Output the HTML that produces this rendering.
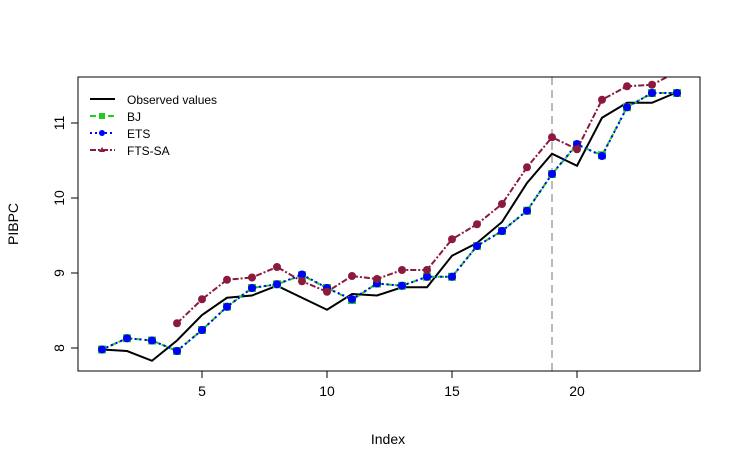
<!DOCTYPE html>
<html><head><meta charset="utf-8"><style>
body{margin:0;background:#fff}
svg{display:block;font-family:"Liberation Sans",Arial,sans-serif}
</style></head><body>
<svg id="chart" width="741" height="470">
<defs><clipPath id="plotclip"><rect x="78" y="77" width="622" height="294"/></clipPath></defs>
<g id="marks" clip-path="url(#plotclip)"></g>
<rect x="78" y="77" width="622" height="294" fill="none" stroke="#000"/>
<g id="axes"></g>
<text x="388" y="444" font-size="14" text-anchor="middle">Index</text>
<text transform="translate(18,224) rotate(-90)" font-size="14" text-anchor="middle">PIBPC</text>
<g font-size="12">
<g><line x1="90" y1="99" x2="115" y2="99" stroke="#000" stroke-width="2"/><text x="127" y="104">Observed values</text></g>
<g><line x1="90" y1="116" x2="115" y2="116" stroke="#22cc22" stroke-width="2" stroke-dasharray="6,3"/><rect x="99" y="113" width="6" height="6" fill="#22cc22"/><text x="127" y="121">BJ</text></g>
<g><line x1="90" y1="133" x2="115" y2="133" stroke="#0000ff" stroke-width="2" stroke-dasharray="2,3"/><circle cx="102" cy="133" r="3" fill="#0000ff"/><text x="127" y="138">ETS</text></g>
<g><line x1="90" y1="150" x2="115" y2="150" stroke="#8b1a3c" stroke-width="2" stroke-dasharray="6,2,2,2"/><path d="M102,147 l3,5 h-6z" fill="#8b1a3c"/><text x="127" y="155">FTS-SA</text></g>
</g>
</svg>
<script>
const indices=[1,2,3,4,5,6,7,8,9,10,11,12,13,14,15,16,17,18,19,20,21,22,23,24];
const observed=[7.98,7.96,7.83,8.1,8.44,8.67,8.70,8.83,8.67,8.51,8.72,8.70,8.81,8.81,9.23,9.40,9.68,10.2,10.59,10.43,11.07,11.27,11.27,11.41];
const bj=[7.98,8.13,8.10,7.96,8.24,8.55,8.80,8.85,8.97,8.80,8.64,8.86,8.83,8.95,8.95,9.36,9.56,9.83,10.32,10.71,10.57,11.21,11.40,11.40];
const ets=[7.98,8.13,8.10,7.96,8.24,8.55,8.80,8.85,8.98,8.80,8.65,8.86,8.83,8.95,8.95,9.36,9.56,9.83,10.32,10.72,10.56,11.21,11.40,11.40];
const ftsIdx=[4,5,6,7,8,9,10,11,12,13,14,15,16,17,18,19,20,21,22,23,24];
const fts=[8.33,8.65,8.91,8.94,9.08,8.89,8.75,8.96,8.92,9.04,9.04,9.45,9.65,9.92,10.41,10.81,10.65,11.31,11.49,11.51,11.68];
const xTicks=[5,10,15,20];
const yTicks=[8,9,10,11];
const cutoff=19;
const NS="http://www.w3.org/2000/svg";
const xs=v=>102+(v-1)*25, ys=v=>348-(v-8)*75;
const marks=document.getElementById('marks'), axes=document.getElementById('axes');
function mk(tag,attrs,parent){const e=document.createElementNS(NS,tag);for(const k in attrs)e.setAttribute(k,attrs[k]);parent.appendChild(e);return e;}
const vl=mk('line',{x1:xs(cutoff),x2:xs(cutoff),y1:77,y2:371,stroke:'#bbb','stroke-width':2,'stroke-dasharray':'8,5'},marks);


function series(xv,yv,color,dash,name,marker){
  const p=mk('polyline',{points:xv.map((x,i)=>xs(x)+','+ys(yv[i])).join(' '),fill:'none',stroke:color,'stroke-width':2,'stroke-dasharray':dash},marks);
  
  
  if(!marker)return;
  xv.forEach((x,i)=>{let m;
    if(marker==='sq')m=mk('rect',{x:xs(x)-4,y:ys(yv[i])-4,width:8,height:8,fill:color},marks);
    else m=mk('circle',{cx:xs(x),cy:ys(yv[i]),r:marker==='big'?4:4,fill:color},marks);
    
    
  });
}
series(indices,observed,'#000','none','observed',null);
series(indices,bj,'#22cc22','6,3','bj','sq');
series(indices,ets,'#0000ff','2,3','ets','big');
series(ftsIdx,fts,'#8b1a3c','6,2,2,2','fts-sa','c');
xTicks.forEach(t=>{
  const l=mk('line',{x1:xs(t),x2:xs(t),y1:371,y2:378,stroke:'#000'},axes);
  
  
  const tx=mk('text',{x:xs(t),y:396,'font-size':14,'text-anchor':'middle'},axes);tx.textContent=t;
  
  
});
yTicks.forEach(t=>{
  const l=mk('line',{x1:71,x2:78,y1:ys(t),y2:ys(t),stroke:'#000'},axes);
  
  
  const tx=mk('text',{transform:`translate(64,${ys(t)}) rotate(-90)`,'font-size':14,'text-anchor':'middle'},axes);tx.textContent=t;
  
  
});
</script>
</body></html>
